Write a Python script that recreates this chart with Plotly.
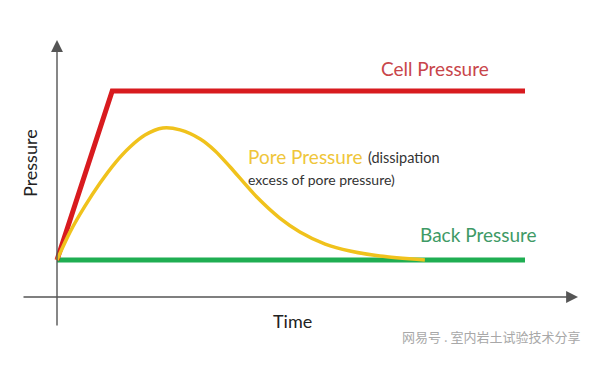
import plotly.graph_objects as go

# ---- data (schematic, arbitrary units) ----
cell_time = [0.0, 1.18, 10.0]
cell_pressure = [1.8, 10.0, 10.0]

back_time = [0.0, 10.0]
back_pressure = [1.8, 1.8]

pore_time = [0.0, 0.28, 0.60, 0.92, 1.24, 1.56, 1.88, 2.26, 2.63, 3.06, 3.38,
             3.70, 4.27, 4.76, 5.19, 5.73, 6.26, 6.90, 7.86]
pore_pressure = [1.8, 3.16, 4.42, 5.53, 6.50, 7.28, 7.86, 8.20, 8.11, 7.67, 7.09,
                 6.31, 4.85, 3.83, 3.16, 2.57, 2.23, 1.99, 1.80]

W, H = 609, 374
X0, Y0 = 57, 297       # pixel of origin
SX, SY = 46.8, 20.6    # pixels per unit


def px_t(px):
    return (px - X0) / SX


def px_p(py):
    return (Y0 - py) / SY


def paper(px, py):
    return px / W, 1 - py / H


fig = go.Figure()
fig.add_trace(go.Scatter(x=back_time, y=back_pressure, mode="lines",
                         line=dict(color="#1fae52", width=5), hoverinfo="skip"))
fig.add_trace(go.Scatter(x=cell_time, y=cell_pressure, mode="lines",
                         line=dict(color="#d81b1f", width=5), hoverinfo="skip"))
fig.add_trace(go.Scatter(x=pore_time, y=pore_pressure, mode="lines",
                         line=dict(color="#f0c21c", width=3.5, shape="spline", smoothing=0.8),
                         hoverinfo="skip"))

annotations = []
# axes arrows
annotations.append(dict(x=0, y=px_p(40), ax=0, ay=px_p(327), xref="x", yref="y",
                        axref="x", ayref="y", showarrow=True, arrowhead=2,
                        arrowsize=1.7, arrowwidth=1.4, arrowcolor="#555555", text=""))
annotations.append(dict(x=px_t(578), y=0, ax=px_t(22), ay=0, xref="x", yref="y",
                        axref="x", ayref="y", showarrow=True, arrowhead=2,
                        arrowsize=1.7, arrowwidth=1.4, arrowcolor="#555555", text=""))


def label(text, px, py, size, color, xanchor="left", angle=0, family="Lato"):
    xp, yp = paper(px, py)
    annotations.append(dict(text=text, x=xp, y=yp, xref="paper", yref="paper",
                            xanchor=xanchor, yanchor="middle", showarrow=False,
                            textangle=angle,
                            font=dict(size=size, color=color, family=family)))


label("Cell Pressure", 379, 68, 19, "#c8454a")
label("Pore Pressure", 246, 156, 19, "#efc63a")
label("(dissipation", 366, 157, 14.5, "#333333")
label("excess of pore pressure)", 246, 180, 14, "#333333")
label("Back Pressure", 418, 235, 19, "#3e9a66")
label("Pressure", 30, 163, 18, "#222222", xanchor="center", angle=-90)
label("Time", 292, 321, 18, "#222222", xanchor="center")
label("网易号 . 室内岩土试验技术分享", 400, 336, 13, "#a8a8a8", family="Noto Sans CJK SC")

fig.update_layout(
    width=W, height=H,
    margin=dict(l=0, r=0, t=0, b=0),
    paper_bgcolor="white", plot_bgcolor="white",
    showlegend=False,
    annotations=annotations,
    xaxis=dict(range=[-X0 / SX, (W - X0) / SX], visible=False, fixedrange=True),
    yaxis=dict(range=[(Y0 - H) / SY, Y0 / SY], visible=False, fixedrange=True),
)

fig.write_html("out.html", config={"displayModeBar": False},
               post_script="document.body.style.margin='0';document.body.style.padding='0';")
